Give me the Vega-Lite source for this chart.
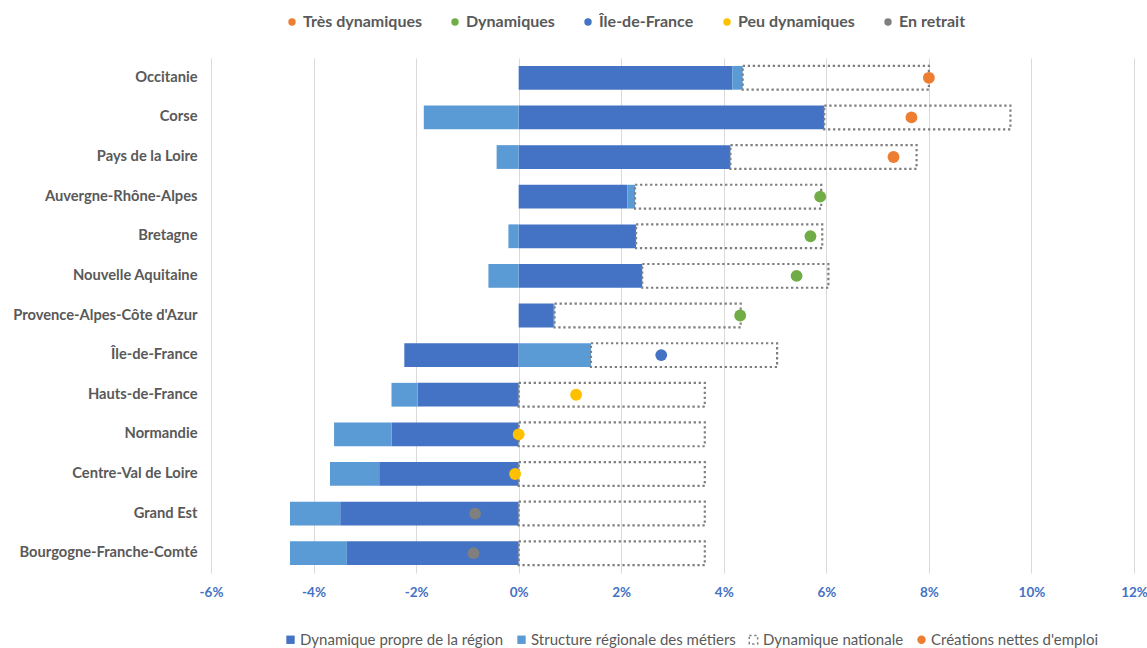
{
  "$schema": "https://vega.github.io/schema/vega-lite/v6.json",
  "width": 923,
  "height": 515,
  "autosize": "none",
  "padding": {"left": 211, "top": 58, "right": 13, "bottom": 75},
  "background": "white",
  "config": {
    "view": {"stroke": null},
    "font": "Lato"
  },
  "datasets": {
    "bars": [
      {"region": "Occitanie", "comp": "Dynamique propre de la région", "rang": 1, "value": 4.17},
      {"region": "Occitanie", "comp": "Structure régionale des métiers", "rang": 2, "value": 0.2},
      {"region": "Occitanie", "comp": "Dynamique nationale", "rang": 3, "value": 3.63},
      {"region": "Corse", "comp": "Dynamique propre de la région", "rang": 1, "value": 5.96},
      {"region": "Corse", "comp": "Structure régionale des métiers", "rang": 2, "value": -1.85},
      {"region": "Corse", "comp": "Dynamique nationale", "rang": 3, "value": 3.63},
      {"region": "Pays de la Loire", "comp": "Dynamique propre de la région", "rang": 1, "value": 4.13},
      {"region": "Pays de la Loire", "comp": "Structure régionale des métiers", "rang": 2, "value": -0.43},
      {"region": "Pays de la Loire", "comp": "Dynamique nationale", "rang": 3, "value": 3.63},
      {"region": "Auvergne-Rhône-Alpes", "comp": "Dynamique propre de la région", "rang": 1, "value": 2.12},
      {"region": "Auvergne-Rhône-Alpes", "comp": "Structure régionale des métiers", "rang": 2, "value": 0.15},
      {"region": "Auvergne-Rhône-Alpes", "comp": "Dynamique nationale", "rang": 3, "value": 3.63},
      {"region": "Bretagne", "comp": "Dynamique propre de la région", "rang": 1, "value": 2.29},
      {"region": "Bretagne", "comp": "Structure régionale des métiers", "rang": 2, "value": -0.2},
      {"region": "Bretagne", "comp": "Dynamique nationale", "rang": 3, "value": 3.63},
      {"region": "Nouvelle Aquitaine", "comp": "Dynamique propre de la région", "rang": 1, "value": 2.41},
      {"region": "Nouvelle Aquitaine", "comp": "Structure régionale des métiers", "rang": 2, "value": -0.59},
      {"region": "Nouvelle Aquitaine", "comp": "Dynamique nationale", "rang": 3, "value": 3.63},
      {"region": "Provence-Alpes-Côte d'Azur", "comp": "Dynamique propre de la région", "rang": 1, "value": 0.67},
      {"region": "Provence-Alpes-Côte d'Azur", "comp": "Structure régionale des métiers", "rang": 2, "value": 0.03},
      {"region": "Provence-Alpes-Côte d'Azur", "comp": "Dynamique nationale", "rang": 3, "value": 3.63},
      {"region": "Île-de-France", "comp": "Dynamique propre de la région", "rang": 1, "value": -2.23},
      {"region": "Île-de-France", "comp": "Structure régionale des métiers", "rang": 2, "value": 1.41},
      {"region": "Île-de-France", "comp": "Dynamique nationale", "rang": 3, "value": 3.63},
      {"region": "Hauts-de-France", "comp": "Dynamique propre de la région", "rang": 1, "value": -1.97},
      {"region": "Hauts-de-France", "comp": "Structure régionale des métiers", "rang": 2, "value": -0.51},
      {"region": "Hauts-de-France", "comp": "Dynamique nationale", "rang": 3, "value": 3.63},
      {"region": "Normandie", "comp": "Dynamique propre de la région", "rang": 1, "value": -2.48},
      {"region": "Normandie", "comp": "Structure régionale des métiers", "rang": 2, "value": -1.12},
      {"region": "Normandie", "comp": "Dynamique nationale", "rang": 3, "value": 3.63},
      {"region": "Centre-Val de Loire", "comp": "Dynamique propre de la région", "rang": 1, "value": -2.72},
      {"region": "Centre-Val de Loire", "comp": "Structure régionale des métiers", "rang": 2, "value": -0.96},
      {"region": "Centre-Val de Loire", "comp": "Dynamique nationale", "rang": 3, "value": 3.63},
      {"region": "Grand Est", "comp": "Dynamique propre de la région", "rang": 1, "value": -3.48},
      {"region": "Grand Est", "comp": "Structure régionale des métiers", "rang": 2, "value": -0.98},
      {"region": "Grand Est", "comp": "Dynamique nationale", "rang": 3, "value": 3.63},
      {"region": "Bourgogne-Franche-Comté", "comp": "Dynamique propre de la région", "rang": 1, "value": -3.35},
      {"region": "Bourgogne-Franche-Comté", "comp": "Structure régionale des métiers", "rang": 2, "value": -1.11},
      {"region": "Bourgogne-Franche-Comté", "comp": "Dynamique nationale", "rang": 3, "value": 3.63}
    ],
    "points": [
      {"region": "Occitanie", "cat": "Très dynamiques", "total": 8.0},
      {"region": "Corse", "cat": "Très dynamiques", "total": 7.66},
      {"region": "Pays de la Loire", "cat": "Très dynamiques", "total": 7.31},
      {"region": "Auvergne-Rhône-Alpes", "cat": "Dynamiques", "total": 5.88},
      {"region": "Bretagne", "cat": "Dynamiques", "total": 5.69},
      {"region": "Nouvelle Aquitaine", "cat": "Dynamiques", "total": 5.42},
      {"region": "Provence-Alpes-Côte d'Azur", "cat": "Dynamiques", "total": 4.32},
      {"region": "Île-de-France", "cat": "Île-de-France", "total": 2.78},
      {"region": "Hauts-de-France", "cat": "Peu dynamiques", "total": 1.12},
      {"region": "Normandie", "cat": "Peu dynamiques", "total": 0.0},
      {"region": "Centre-Val de Loire", "cat": "Peu dynamiques", "total": -0.07},
      {"region": "Grand Est", "cat": "En retrait", "total": -0.85},
      {"region": "Bourgogne-Franche-Comté", "cat": "En retrait", "total": -0.88}
    ]
  },
  "encoding": {
    "y": {
      "field": "region",
      "type": "nominal",
      "sort": ["Occitanie", "Corse", "Pays de la Loire", "Auvergne-Rhône-Alpes", "Bretagne", "Nouvelle Aquitaine", "Provence-Alpes-Côte d'Azur", "Île-de-France", "Hauts-de-France", "Normandie", "Centre-Val de Loire", "Grand Est", "Bourgogne-Franche-Comté"],
      "scale": {"paddingInner": 0.4, "paddingOuter": 0.2},
      "axis": {
        "title": null,
        "domain": false,
        "ticks": false,
        "labelPadding": 14,
        "labelFontSize": 14.7,
        "labelFontWeight": "bold",
        "labelColor": "#595959",
        "labelFont": "Lato",
        "labelLimit": 300
      }
    }
  },
  "layer": [
    {
      "data": {"name": "bars"},
      "mark": {"type": "bar", "strokeWidth": 2.2},
      "encoding": {
        "x": {
          "field": "value",
          "type": "quantitative",
          "stack": "zero",
          "scale": {"domain": [-6, 12], "nice": false},
          "axis": {
            "title": null,
            "values": [-6, -4, -2, 0, 2, 4, 6, 8, 10, 12],
            "labelExpr": "datum.value + '%'",
            "labelFlush": false,
            "domain": false,
            "ticks": false,
            "grid": true,
            "gridColor": "#D9D9D9",
            "gridWidth": 1,
            "labelPadding": 12,
            "labelFontSize": 13.5,
            "labelFontWeight": "bold",
            "labelColor": "#4472C4",
            "labelFont": "Lato"
          }
        },
        "order": {"field": "rang", "type": "quantitative"},
        "fill": {
          "field": "comp",
          "type": "nominal",
          "scale": {
            "domain": ["Dynamique propre de la région", "Structure régionale des métiers", "Dynamique nationale", "Créations nettes d'emploi"],
            "range": ["#4472C4", "#5B9BD5", "transparent", "#ED7D31"]
          },
          "legend": {
            "title": null,
            "orient": "none",
            "direction": "horizontal",
            "legendX": 72,
            "legendY": 574,
            "columnPadding": 10,
            "labelFontSize": 15,
            "labelColor": "#595959",
            "labelFont": "Lato",
            "labelLimit": 400,
            "symbolSize": 70,
            "labelOffset": 2,
            "encode": {
              "symbols": {
                "update": {
                  "shape": {"signal": "datum.value === \"Créations nettes d'emploi\" ? 'circle' : 'square'"}
                }
              }
            }
          }
        },
        "stroke": {
          "field": "comp",
          "type": "nominal",
          "scale": {
            "domain": ["Dynamique propre de la région", "Structure régionale des métiers", "Dynamique nationale", "Créations nettes d'emploi"],
            "range": ["transparent", "transparent", "#7F7F7F", "transparent"]
          },
          "legend": {
            "title": null,
            "orient": "none",
            "direction": "horizontal",
            "legendX": 72,
            "legendY": 574,
            "columnPadding": 10,
            "labelFontSize": 15,
            "labelColor": "#595959",
            "labelFont": "Lato",
            "labelLimit": 400,
            "symbolSize": 70,
            "labelOffset": 2,
            "encode": {
              "symbols": {
                "update": {
                  "shape": {"signal": "datum.value === \"Créations nettes d'emploi\" ? 'circle' : 'square'"}
                }
              }
            }
          }
        },
        "strokeDash": {
          "field": "comp",
          "type": "nominal",
          "scale": {
            "domain": ["Dynamique propre de la région", "Structure régionale des métiers", "Dynamique nationale", "Créations nettes d'emploi"],
            "range": [[1, 0], [1, 0], [2.3, 2.7], [1, 0]]
          },
          "legend": {
            "title": null,
            "orient": "none",
            "direction": "horizontal",
            "legendX": 72,
            "legendY": 574,
            "columnPadding": 10,
            "labelFontSize": 15,
            "labelColor": "#595959",
            "labelFont": "Lato",
            "labelLimit": 400,
            "symbolSize": 70,
            "labelOffset": 2,
            "encode": {
              "symbols": {
                "update": {
                  "shape": {"signal": "datum.value === \"Créations nettes d'emploi\" ? 'circle' : 'square'"}
                }
              }
            }
          }
        }
      }
    },
    {
      "data": {"name": "points"},
      "mark": {"type": "point", "filled": true, "opacity": 1, "size": 140, "shape": "circle"},
      "encoding": {
        "x": {"field": "total", "type": "quantitative"},
        "color": {
          "field": "cat",
          "type": "nominal",
          "scale": {
            "domain": ["Très dynamiques", "Dynamiques", "Île-de-France", "Peu dynamiques", "En retrait"],
            "range": ["#ED7D31", "#70AD47", "#4472C4", "#FFC000", "#7F7F7F"]
          },
          "legend": {
            "title": null,
            "orient": "none",
            "direction": "horizontal",
            "legendX": 73,
            "legendY": -44,
            "columnPadding": 25,
            "labelFontSize": 16,
            "labelFontWeight": "bold",
            "labelColor": "#595959",
            "labelFont": "Lato",
            "symbolSize": 55,
            "labelOffset": 3
          }
        }
      }
    }
  ],
  "resolve": {"scale": {"color": "independent"}}
}
